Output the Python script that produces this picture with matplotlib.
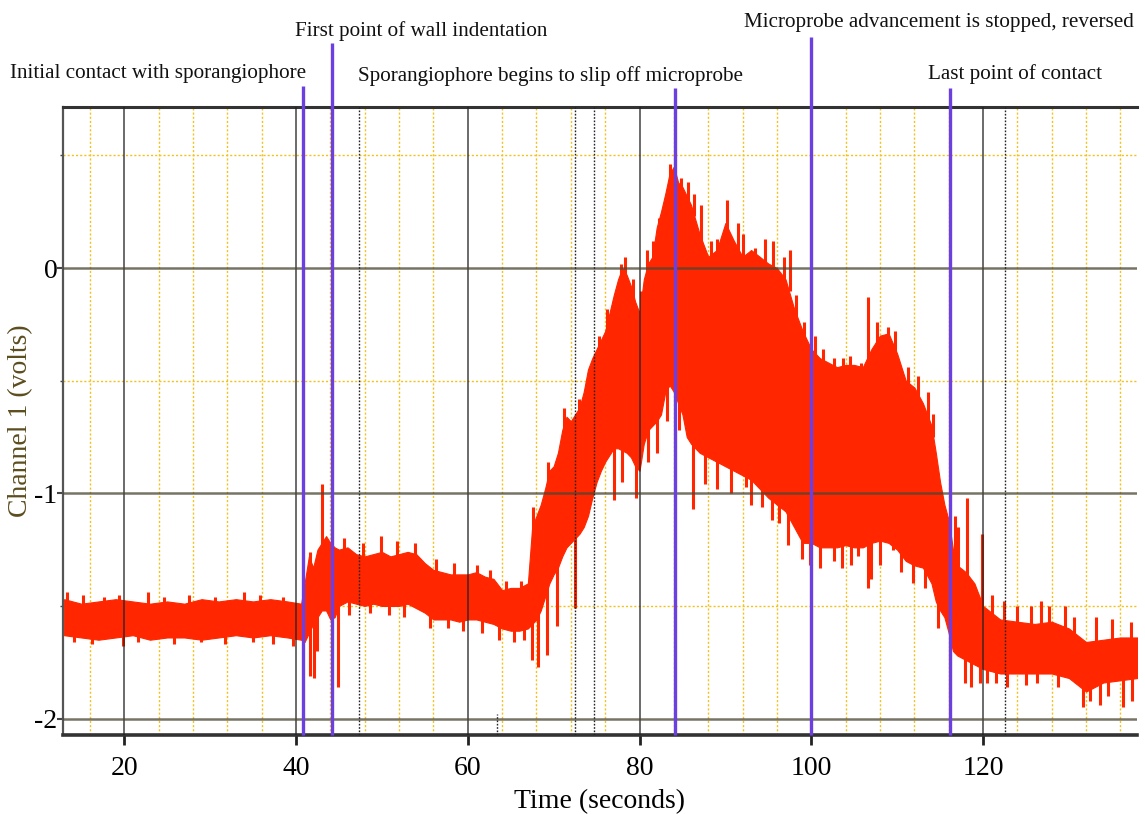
import matplotlib
matplotlib.use("Agg")
import matplotlib.pyplot as plt
from matplotlib.ticker import MultipleLocator

plt.rcParams["font.family"] = ["Liberation Serif", "DejaVu Serif"]
plt.rcParams["axes.unicode_minus"] = False

t_env = [13, 15, 17, 19, 21, 23, 25, 27, 29, 31, 33, 35, 37, 39, 40.6,
         41.0, 41.5, 42.0, 42.5, 43.0, 43.5, 44.0, 44.5, 45, 46, 47, 48, 49, 50,
         51, 52, 53, 54, 55, 56, 57, 58, 59, 60, 61, 62, 63, 64, 65, 66, 67,
         67.5, 68, 68.5, 69, 69.5, 70, 70.5, 71, 71.5, 72, 72.5, 73, 73.5, 74,
         74.5, 75, 75.5, 76, 76.5, 77, 77.5, 78, 78.5, 79, 79.5, 80, 80.5, 81,
         81.5, 82, 82.5, 83, 83.5, 84, 84.5, 85, 85.5, 86, 87, 88, 89, 90, 91,
         92, 93, 94, 95, 96, 97, 98, 99, 100, 101, 102, 103, 104, 105, 106,
         107, 108, 109, 110, 111, 112, 113, 114, 114.5, 115, 115.5, 116, 116.5,
         117, 118, 119, 120, 122, 124, 126, 128, 130, 132, 134, 136, 138]
v_upper = [-1.47, -1.49, -1.48, -1.47, -1.48, -1.49, -1.48, -1.49, -1.47, -1.48,
           -1.47, -1.48, -1.47, -1.48, -1.49,
           -1.40, -1.28, -1.33, -1.25, -1.22, -1.19, -1.22, -1.24, -1.25, -1.24,
           -1.27, -1.28, -1.27, -1.26, -1.28, -1.27, -1.26, -1.27, -1.31, -1.34,
           -1.35, -1.36, -1.36, -1.36, -1.35, -1.37, -1.38, -1.43, -1.42, -1.42,
           -1.40, -1.15, -1.10, -1.05, -0.98, -0.90, -0.88, -0.82, -0.72, -0.66,
           -0.68, -0.65, -0.62, -0.55, -0.45, -0.40, -0.36, -0.32, -0.28, -0.20,
           -0.12, -0.05, 0.00, -0.03, -0.08, -0.15, -0.20, -0.05, 0.02, 0.05,
           0.18, 0.25, 0.33, 0.42, 0.45, 0.38, 0.36, 0.32, 0.28, 0.15, 0.05,
           0.08, 0.20, 0.12, 0.05, 0.08, 0.05, 0.02, 0.00, -0.05, -0.18, -0.28,
           -0.36, -0.40, -0.42, -0.44, -0.43, -0.43, -0.44, -0.36, -0.30, -0.29,
           -0.38, -0.50, -0.53, -0.60, -0.70, -0.82, -0.95, -1.05, -1.12, -1.25,
           -1.32, -1.35, -1.40, -1.50, -1.56, -1.57, -1.58, -1.57, -1.60, -1.66,
           -1.65, -1.64, -1.64]
v_lower = [-1.63, -1.64, -1.65, -1.64, -1.63, -1.65, -1.64, -1.64, -1.65, -1.64,
           -1.63, -1.64, -1.63, -1.64, -1.65,
           -1.66, -1.62, -1.58, -1.55, -1.52, -1.52, -1.56, -1.55, -1.50, -1.48,
           -1.49, -1.50, -1.49, -1.50, -1.50, -1.50, -1.49, -1.51, -1.53, -1.56,
           -1.56, -1.56, -1.57, -1.56, -1.56, -1.57, -1.58, -1.60, -1.61, -1.61,
           -1.60, -1.58, -1.56, -1.52, -1.46, -1.40, -1.36, -1.33, -1.28, -1.24,
           -1.22, -1.20, -1.18, -1.15, -1.10, -1.02, -0.95, -0.90, -0.86, -0.83,
           -0.80, -0.80, -0.81, -0.82, -0.84, -0.88, -0.90, -0.78, -0.72, -0.70,
           -0.68, -0.65, -0.55, -0.52, -0.55, -0.60, -0.65, -0.75, -0.78, -0.82,
           -0.84, -0.86, -0.88, -0.90, -0.92, -0.94, -0.98, -1.02, -1.05, -1.08,
           -1.15, -1.22, -1.22, -1.24, -1.24, -1.24, -1.23, -1.24, -1.24, -1.22,
           -1.21, -1.22, -1.25, -1.30, -1.32, -1.33, -1.40, -1.48, -1.52, -1.55,
           -1.62, -1.70, -1.72, -1.74, -1.76, -1.78, -1.80, -1.80, -1.80, -1.80,
           -1.82, -1.88, -1.84, -1.83, -1.82]

# spikes sticking out above the band
spike_up_t = [13.3, 15.2, 17.6, 19.4, 22.8, 24.6, 27.5, 30.6, 33.9, 35.8, 38.5,
              41.6, 43.0, 45.6, 47.8, 49.9, 51.8, 53.9, 56.3, 58.4, 61.1, 62.6,
              64.4, 66.2, 67.6, 69.3, 71.2, 73.0, 75.3, 76.2, 77.9, 78.3, 79.3,
              80.2, 80.9, 81.6, 82.3, 82.9, 83.6, 84.8, 85.6, 86.3, 87.2, 88.3,
              89.0, 90.2, 91.5, 92.0, 93.4, 94.6, 95.5, 96.8, 97.5, 98.2, 99.1,
              100.4, 101.4, 102.7, 103.7, 104.5, 105.8, 106.6, 107.6, 108.9,
              109.8, 111.3, 112.4, 113.6, 114.2, 116.7, 117.1, 118.1, 119.9,
              121.0, 122.4, 123.9, 125.6, 126.8, 127.7, 129.6, 130.6, 133.2,
              135.0, 137.2]
spike_up_v = [-1.44, -1.45, -1.46, -1.45, -1.44, -1.46, -1.45, -1.46, -1.44, -1.45,
              -1.46, -1.26, -0.96, -1.20, -1.22, -1.19, -1.21, -1.22, -1.29,
              -1.31, -1.32, -1.34, -1.39, -1.39, -1.06, -0.86, -0.62, -0.58,
              -0.30, -0.18, 0.02, 0.05, -0.05, -0.10, 0.08, 0.12, 0.22, 0.28,
              0.46, 0.40, 0.38, 0.33, 0.28, 0.12, 0.13, 0.30, 0.20, 0.15, 0.09,
              0.13, 0.12, 0.05, 0.08, -0.12, -0.24, -0.30, -0.36, -0.40, -0.40,
              -0.39, -0.42, -0.13, -0.24, -0.26, -0.28, -0.44, -0.48, -0.55,
              -0.65, -1.10, -1.15, -1.02, -1.18, -1.45, -1.48, -1.50, -1.50,
              -1.48, -1.50, -1.50, -1.55, -1.55, -1.56, -1.57]
# spikes sticking out below the band
spike_dn_t = [14.2, 16.3, 19.9, 21.6, 25.8, 28.9, 31.7, 35.0, 37.3, 39.6, 41.6,
              42.1, 42.5, 44.9, 46.2, 48.6, 50.8, 52.6, 55.6, 57.7, 59.5, 61.7,
              63.6, 65.4, 66.5, 67.5, 68.2, 69.2, 70.4, 72.5, 77.0, 78.0, 79.6,
              81.0, 82.0, 83.2, 84.6, 86.2, 87.6, 89.0, 90.6, 92.4, 93.0, 94.3,
              95.4, 96.3, 97.3, 98.9, 99.8, 101.0, 102.6, 103.6, 104.6, 105.4,
              106.6, 107.0, 108.0, 109.5, 110.4, 111.8, 113.2, 114.8, 116.2,
              117.9, 118.6, 119.6, 120.5, 121.5, 122.8, 125.0, 126.3, 128.7,
              131.7, 132.4, 133.6, 134.5, 136.3, 137.4]
spike_dn_v = [-1.66, -1.67, -1.68, -1.66, -1.67, -1.66, -1.67, -1.66, -1.67, -1.68,
              -1.81, -1.82, -1.70, -1.86, -1.54, -1.53, -1.54, -1.55, -1.60,
              -1.60, -1.61, -1.62, -1.65, -1.66, -1.65, -1.74, -1.77, -1.72,
              -1.59, -1.51, -1.03, -0.95, -1.02, -0.86, -0.82, -0.68, -0.72,
              -1.07, -0.96, -0.98, -1.00, -0.97, -1.05, -1.06, -1.12, -1.13,
              -1.23, -1.29, -1.32, -1.33, -1.30, -1.33, -1.32, -1.28, -1.42,
              -1.38, -1.32, -1.25, -1.35, -1.40, -1.42, -1.60, -1.91, -1.84,
              -1.86, -1.84, -1.84, -1.84, -1.86, -1.85, -1.84, -1.86, -1.95,
              -1.92, -1.94, -1.90, -1.95, -1.92]

# event markers and their captions
event_t = [40.8, 44.2, 84.1, 100.0, 116.2]
event_top = [0.81, 1.00, 0.80, 1.025, 0.80]
event_text = ["Initial contact with sporangiophore",
              "First point of wall indentation",
              "Sporangiophore begins to slip off microprobe",
              "Microprobe advancement is stopped, reversed",
              "Last point of contact"]
text_px = [158, 421, 551, 939, 1015]
text_py = [78, 36, 81, 27, 79]

# extra dotted reference lines
dotted_t = [47.3, 63.4, 72.5, 74.7, 122.6]

W, H = 1145, 814
fig = plt.figure(figsize=(W / 100, H / 100), dpi=100)
ax = fig.add_axes([63 / W, 1 - 735 / H, (1137 - 63) / W, (735 - 107) / H])

ax.set_xlim(12.87, 137.93)
ax.set_ylim(-2.073, 0.715)


def nearest(t):
    return min(range(len(t_env)), key=lambda k: abs(t_env[k] - t))


red = "#ff2600"
ax.fill_between(t_env, v_lower, v_upper, color=red, lw=0.8, edgecolor=red, zorder=2)
for t, v in zip(spike_up_t, spike_up_v):
    i = nearest(t)
    ax.vlines(t, v_upper[i] - 0.05, v, color=red, lw=2.2, zorder=2)
for t, v in zip(spike_dn_t, spike_dn_v):
    i = nearest(t)
    ax.vlines(t, v, v_lower[i] + 0.05, color=red, lw=2.2, zorder=2)

# grid
ax.xaxis.set_major_locator(MultipleLocator(20))
ax.xaxis.set_minor_locator(MultipleLocator(4))
ax.yaxis.set_major_locator(MultipleLocator(1))
ax.yaxis.set_minor_locator(MultipleLocator(0.5))
ax.set_axisbelow(True)
ax.grid(which="minor", color="#f2c21b", ls=(0, (1.5, 1.5)), lw=1.0)
for x in range(20, 121, 20):
    ax.axvline(x, color="#222222", lw=1.1, alpha=0.85, zorder=3)
for y in [0, -1, -2]:
    ax.axhline(y, color="#4a4632", lw=1.8, alpha=0.75, zorder=3)
for x in dotted_t:
    top = -1.98 if x == 63.4 else 0.715
    ax.vlines(x, -2.073, top, color="#222222", lw=1.0, ls=(0, (1.2, 1.2)), zorder=3)

for t, top in zip(event_t, event_top):
    ax.vlines(t, -2.073, top, color="#6b3fe0", lw=2.4, zorder=4, clip_on=False)
for s, x, y in zip(event_text, text_px, text_py):
    fig.text(x / W, 1 - y / H, s, ha="center", va="baseline", fontsize=15.2,
             color="#111111")

ax.spines["right"].set_visible(False)
ax.spines["top"].set_linewidth(2.2)
ax.spines["top"].set_color("#333333")
ax.spines["bottom"].set_linewidth(2.6)
ax.spines["bottom"].set_color("#333333")
ax.spines["left"].set_linewidth(1.6)
ax.spines["left"].set_color("#555555")

ax.tick_params(axis="x", which="major", length=7, width=2, color="#222222",
               labelsize=20, pad=8)
ax.tick_params(axis="x", which="minor", length=0)
ax.tick_params(axis="y", which="major", length=4, width=1.5, color="#444444",
               labelsize=20, pad=0)
ax.tick_params(axis="y", which="minor", length=2, width=1, color="#444444")
ax.set_xticks([20, 40, 60, 80, 100, 120])
ax.set_xticklabels(["20", "40", "60", "80", "100", "120"])
ax.set_yticks([0, -1, -2])
ax.set_yticklabels(["0", "-1", "-2"])

ax.set_xlabel("Time (seconds)", fontsize=20, labelpad=6)
ax.set_ylabel("Channel 1 (volts)", fontsize=20, color="#5c4d1e", labelpad=1)

fig.savefig("out.png", dpi=100)
